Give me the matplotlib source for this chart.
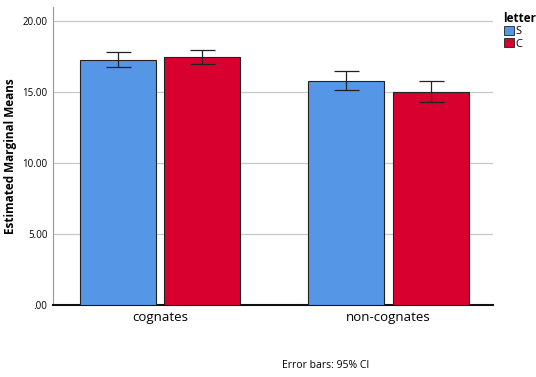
import matplotlib
matplotlib.use("Agg")
import matplotlib.pyplot as plt
import numpy as np
from matplotlib.patches import Patch

categories = ["cognates", "non-cognates"]
letters = ["S", "C"]
means_s = [17.30, 15.82]
means_c = [17.49, 15.05]
ci_low_s = [16.78, 15.16]
ci_high_s = [17.82, 16.48]
ci_low_c = [17.00, 14.32]
ci_high_c = [17.98, 15.77]
yticks = [0, 5, 10, 15, 20]
ytick_labels = [".00", "5.00", "10.00", "15.00", "20.00"]

col_s = "#5596e6"
col_c = "#d7002e"

plt.rcParams["font.family"] = ["Open Sans", "DejaVu Sans"]

fig = plt.figure(figsize=(5.36, 3.77), dpi=100)
ax = fig.add_axes([0.0989, 0.191, 0.8217, 0.79])

x = np.arange(len(categories))
w = 0.333
off = w / 2 + 0.018

ax.bar(x - off, means_s, width=w, color=col_s, edgecolor="#222222", linewidth=0.8, zorder=3)
ax.bar(x + off, means_c, width=w, color=col_c, edgecolor="#222222", linewidth=0.8, zorder=3)

err_s = [np.array(means_s) - np.array(ci_low_s), np.array(ci_high_s) - np.array(means_s)]
err_c = [np.array(means_c) - np.array(ci_low_c), np.array(ci_high_c) - np.array(means_c)]
ax.errorbar(x - off, means_s, yerr=err_s, fmt="none", ecolor="#222222", elinewidth=0.9, capsize=9, capthick=0.9, zorder=4)
ax.errorbar(x + off, means_c, yerr=err_c, fmt="none", ecolor="#222222", elinewidth=0.9, capsize=9, capthick=0.9, zorder=4)

ax.set_xlim(-0.469, 1.46)
ax.set_ylim(0, 21)
ax.set_yticks(yticks)
ax.set_yticklabels(ytick_labels, fontsize=7)
ax.set_xticks(x)
ax.set_xticklabels(categories, fontsize=9.5)
ax.tick_params(axis="both", length=0, pad=4)
ax.yaxis.grid(True, color="#c8c8c8", linewidth=0.9, zorder=0)
ax.set_axisbelow(True)

for s in ["top", "right"]:
    ax.spines[s].set_visible(False)
ax.spines["left"].set_color("#999999")
ax.spines["left"].set_linewidth(0.8)
ax.spines["bottom"].set_color("#111111")
ax.spines["bottom"].set_linewidth(1.5)

ax.set_ylabel("Estimated Marginal Means", fontsize=8.5, fontweight="bold")
ax.yaxis.set_label_coords(-0.082, 0.5)

handles = [Patch(facecolor=col_s, edgecolor="#222222", linewidth=0.6),
           Patch(facecolor=col_c, edgecolor="#222222", linewidth=0.6)]
leg = fig.legend(handles, letters, title="letter", loc="upper left",
                 bbox_to_anchor=(0.925, 0.99), frameon=False, fontsize=8,
                 handlelength=0.9, handleheight=0.9, handletextpad=0.2,
                 labelspacing=0.1, borderpad=0.2)
leg.get_title().set_fontweight("bold")
leg.get_title().set_fontsize(8.5)
leg._legend_box.align = "left"

fig.text(0.608, 0.03, "Error bars: 95% CI", fontsize=7.5, ha="center", va="center")

fig.savefig("out.png", dpi=100)
